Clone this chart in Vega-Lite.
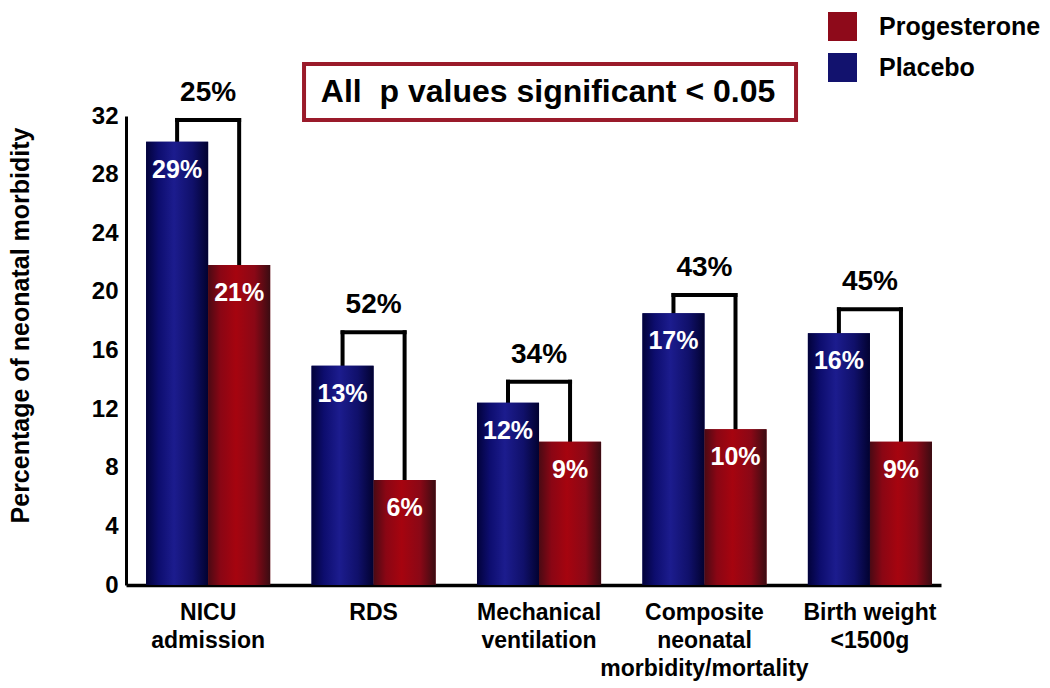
{
  "$schema": "https://vega.github.io/schema/vega-lite/v6.json",
  "width": 815,
  "height": 469,
  "autosize": "none",
  "padding": {"top": 116, "left": 126, "right": 109, "bottom": 103},
  "background": "white",
  "config": {
    "font": "Liberation Sans",
    "view": {"stroke": null},
    "axis": {"grid": false, "ticks": false, "domainColor": "black", "labelColor": "black", "labelFontWeight": "bold", "titleColor": "black", "titleFontWeight": "bold", "labelLimit": 400}
  },
  "datasets": {
    "bars": [
      {"category": "NICU admission", "group": "Placebo", "value": 30.25, "label": "29%", "bracket": 31.73, "reduction": "25%"},
      {"category": "NICU admission", "group": "Progesterone", "value": 21.83, "label": "21%", "bracket": 31.73, "reduction": "25%"},
      {"category": "RDS", "group": "Placebo", "value": 14.96, "label": "13%", "bracket": 17.24, "reduction": "52%"},
      {"category": "RDS", "group": "Progesterone", "value": 7.16, "label": "6%", "bracket": 17.24, "reduction": "52%"},
      {"category": "Mechanical ventilation", "group": "Placebo", "value": 12.44, "label": "12%", "bracket": 13.87, "reduction": "34%"},
      {"category": "Mechanical ventilation", "group": "Progesterone", "value": 9.78, "label": "9%", "bracket": 13.87, "reduction": "34%"},
      {"category": "Composite neonatal morbidity/mortality", "group": "Placebo", "value": 18.54, "label": "17%", "bracket": 19.79, "reduction": "43%"},
      {"category": "Composite neonatal morbidity/mortality", "group": "Progesterone", "value": 10.62, "label": "10%", "bracket": 19.79, "reduction": "43%"},
      {"category": "Birth weight <1500g", "group": "Placebo", "value": 17.17, "label": "16%", "bracket": 18.81, "reduction": "45%"},
      {"category": "Birth weight <1500g", "group": "Progesterone", "value": 9.78, "label": "9%", "bracket": 18.81, "reduction": "45%"}
    ],
    "note": [{"text": "All\u00a0 p values significant < 0.05"}]
  },
  "data": {"name": "bars"},
  "encoding": {
    "x": {
      "field": "category",
      "type": "nominal",
      "sort": null,
      "scale": {"paddingInner": 0.25, "paddingOuter": 0.088, "align": 0.69},
      "axis": {
        "title": null,
        "labelAngle": 0,
        "labelFontSize": 23,
        "labelPadding": 16,
        "labelLineHeight": 28,
        "labelBaseline": "top",
        "domainWidth": 3.5,
        "labelExpr": "datum.value === 'NICU admission' ? ['NICU', 'admission'] : datum.value === 'Mechanical ventilation' ? ['Mechanical', 'ventilation'] : datum.value === 'Composite neonatal morbidity/mortality' ? ['Composite', 'neonatal', 'morbidity/mortality'] : datum.value === 'Birth weight <1500g' ? ['Birth weight', '<1500g'] : datum.value"
      }
    }
  },
  "layer": [
    {
      "mark": {"type": "rule", "strokeWidth": 4, "color": "black", "strokeCap": "square"},
      "encoding": {
        "xOffset": {"field": "group", "type": "nominal", "scale": {"domain": ["Placebo", "Progesterone"], "paddingInner": 0, "paddingOuter": 0}},
        "y": {"field": "value", "type": "quantitative"},
        "y2": {"field": "bracket"}
      }
    },
    {
      "mark": {"type": "line", "strokeWidth": 4, "color": "black", "strokeCap": "square"},
      "encoding": {
        "xOffset": {"field": "group", "type": "nominal"},
        "y": {"field": "bracket", "type": "quantitative"},
        "detail": {"field": "category"}
      }
    },
    {
      "mark": {"type": "bar"},
      "encoding": {
        "xOffset": {"field": "group", "type": "nominal"},
        "y": {
          "field": "value",
          "type": "quantitative",
          "scale": {"domain": [0, 32], "nice": false},
          "axis": {
            "values": [0, 4, 8, 12, 16, 20, 24, 28, 32],
            "title": "Percentage of neonatal morbidity",
            "titleFontSize": 25,
            "titleX": -106,
            "titleY": 209,
            "titleAlign": "center",
            "titleBaseline": "middle",
            "titleLimit": 600,
            "labelFontSize": 24,
            "labelPadding": 8,
            "domainWidth": 3
          }
        },
        "color": {
          "field": "group",
          "type": "nominal",
          "scale": {"domain": ["Progesterone", "Placebo"], "range": ["#8e0a1a", "#12126e"]},
          "legend": {
            "orient": "none",
            "legendX": 702,
            "legendY": -104,
            "title": null,
            "symbolType": "square",
            "symbolSize": 841,
            "symbolStrokeWidth": 0,
            "labelFontSize": 25,
            "labelFontWeight": "bold",
            "labelColor": "black",
            "labelOffset": 22,
            "labelLimit": 400,
            "rowPadding": 12,
            "padding": 0
          }
        }
      }
    },
    {
      "mark": {"type": "bar"},
      "encoding": {
        "xOffset": {"field": "group", "type": "nominal"},
        "y": {"field": "value", "type": "quantitative"},
        "color": {
          "condition": {
            "test": "datum.group === 'Placebo'",
            "value": {"gradient": "linear", "x1": 0, "x2": 1, "y1": 0, "y2": 0,
              "stops": [{"offset": 0, "color": "#02023a"}, {"offset": 0.2, "color": "#0d0d6e"}, {"offset": 0.45, "color": "#1c1c8e"}, {"offset": 0.75, "color": "#10106a"}, {"offset": 1, "color": "#020230"}]}
          },
          "value": {"gradient": "linear", "x1": 0, "x2": 1, "y1": 0, "y2": 0,
            "stops": [{"offset": 0, "color": "#4a0a14"}, {"offset": 0.2, "color": "#8a0614"}, {"offset": 0.45, "color": "#a6040f"}, {"offset": 0.75, "color": "#8a0816"}, {"offset": 1, "color": "#3a0c12"}]}
        }
      }
    },
    {
      "mark": {"type": "text", "color": "white", "fontWeight": "bold", "fontSize": 25, "baseline": "middle", "dy": 28},
      "encoding": {
        "xOffset": {"field": "group", "type": "nominal"},
        "y": {"field": "value", "type": "quantitative"},
        "text": {"field": "label"}
      }
    },
    {
      "transform": [{"filter": "datum.group === 'Placebo'"}],
      "mark": {"type": "text", "color": "black", "fontWeight": "bold", "fontSize": 28, "baseline": "middle", "dy": -27},
      "encoding": {
        "y": {"field": "bracket", "type": "quantitative"},
        "text": {"field": "reduction"}
      }
    },
    {
      "data": {"name": "note"},
      "mark": {"type": "bar", "width": 492, "xOffset": 11, "fill": "white", "stroke": "#9a1a2a", "strokeWidth": 4},
      "encoding": {
        "x": {"datum": "Mechanical ventilation"},
        "y": {"datum": 35.55, "type": "quantitative"},
        "y2": {"datum": 31.73}
      }
    },
    {
      "data": {"name": "note"},
      "mark": {"type": "text", "color": "black", "fontWeight": "bold", "fontSize": 32, "baseline": "middle", "dx": 9},
      "encoding": {
        "x": {"datum": "Mechanical ventilation"},
        "y": {"datum": 33.64, "type": "quantitative"},
        "text": {"field": "text"}
      }
    }
  ]
}
